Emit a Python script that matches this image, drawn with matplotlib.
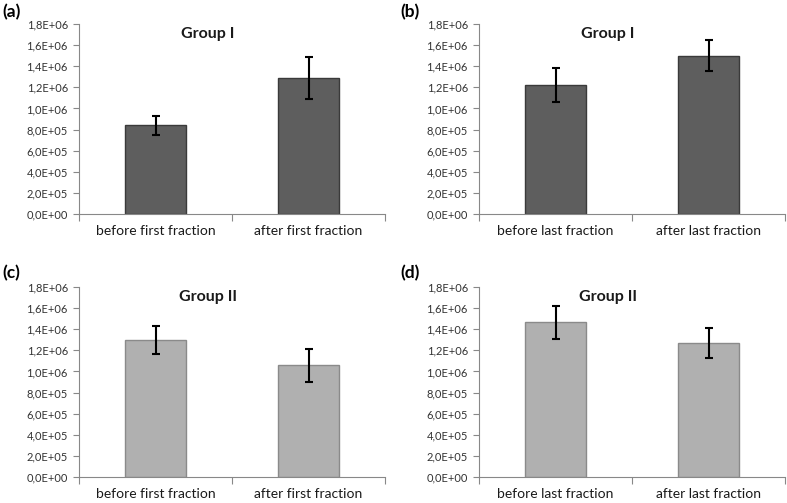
import matplotlib
matplotlib.use("Agg")
import matplotlib.pyplot as plt
from matplotlib.ticker import FuncFormatter, MultipleLocator
import numpy as np

plt.rcParams['font.family'] = ['Lato', 'DejaVu Sans']

panel_labels = ["(a)", "(b)", "(c)", "(d)"]
titles = ["Group I", "Group I", "Group II", "Group II"]
categories_first = ["before first fraction", "after first fraction"]
categories_last = ["before last fraction", "after last fraction"]

values_a = [0.84e6, 1.285e6]
errors_a = [0.093e6, 0.200e6]
values_b = [1.222e6, 1.500e6]
errors_b = [0.158e6, 0.148e6]
values_c = [1.299e6, 1.058e6]
errors_c = [0.136e6, 0.158e6]
values_d = [1.465e6, 1.267e6]
errors_d = [0.158e6, 0.142e6]

dark_face, dark_edge = "#5e5e5e", "#3a3a3a"
light_face, light_edge = "#b0b0b0", "#8a8a8a"

fig = plt.figure(figsize=(7.87, 5.03), dpi=100)
W, H = 787, 503

def add_axes(left, top, right, bottom):
    return fig.add_axes([left / W, 1 - bottom / H, (right - left) / W, (bottom - top) / H])

specs = [
    (add_axes(79, 24, 385, 214), values_a, errors_a, categories_first, dark_face, dark_edge),
    (add_axes(479, 24, 785, 214), values_b, errors_b, categories_last, dark_face, dark_edge),
    (add_axes(79, 287, 385, 477), values_c, errors_c, categories_first, light_face, light_edge),
    (add_axes(479, 287, 785, 477), values_d, errors_d, categories_last, light_face, light_edge),
]

fmt = FuncFormatter(lambda v, p: f"{v:.1E}".replace('.', ','))

for i, (ax, vals, errs, cats, fc, ec) in enumerate(specs):
    x = np.arange(len(cats))
    ax.bar(x, vals, width=0.4, color=fc, edgecolor=ec, linewidth=1.0, zorder=2)
    ax.errorbar(x, vals, yerr=errs, fmt='none', ecolor='black', elinewidth=1.5,
                capsize=3, capthick=1.5, zorder=3)
    ax.set_xlim(-0.5, len(cats) - 0.5)
    ax.set_ylim(0, 1.8e6)
    ax.yaxis.set_major_locator(MultipleLocator(2e5))
    ax.yaxis.set_major_formatter(fmt)
    ax.set_xticks(x)
    ax.set_xticklabels(cats, fontsize=10, color='#1a1a1a')
    ax.set_xticks([-0.5, 0.5, 1.5], minor=True)
    ax.tick_params(axis='x', which='major', length=0, pad=8)
    ax.tick_params(axis='x', which='minor', length=5, color='#888888', width=0.8)
    ax.tick_params(axis='y', length=4, color='#888888', width=0.8, labelsize=8,
                   labelcolor='#333333', pad=4)
    for s in ['top', 'right']:
        ax.spines[s].set_visible(False)
    for s in ['left', 'bottom']:
        ax.spines[s].set_color('#888888')
        ax.spines[s].set_linewidth(0.8)
    ax.text(0.42, 0.985, titles[i], transform=ax.transAxes, ha='center', va='top',
            fontsize=11.5, fontweight='bold', color='#1a1a1a')

label_pos = [(2, 4), (400, 4), (2, 265), (400, 265)]
for lab, (px, py) in zip(panel_labels, label_pos):
    fig.text(px / W, 1 - py / H, lab, ha='left', va='top', fontsize=12.5,
             fontweight='bold', color='black')

fig.savefig("out.png", dpi=100)
